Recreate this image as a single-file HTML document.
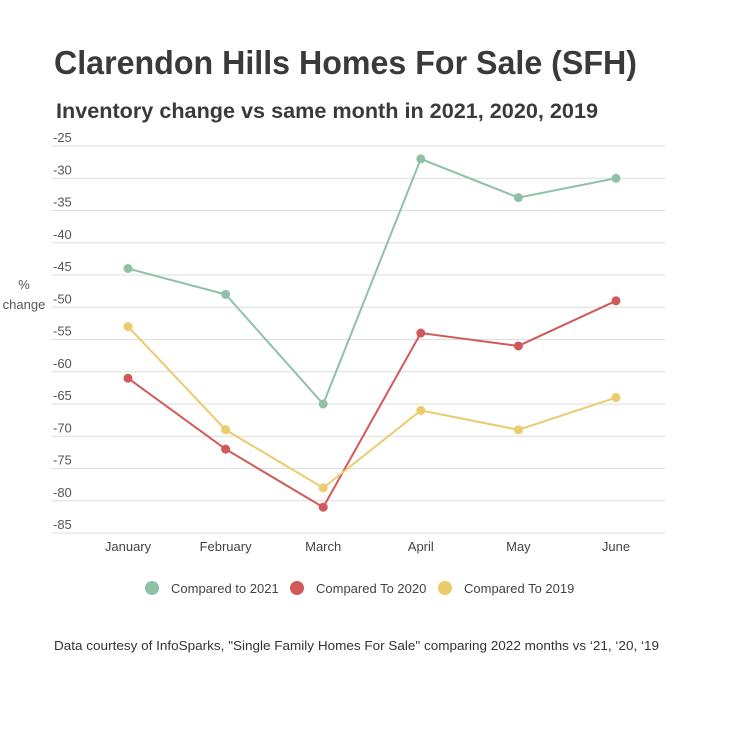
<!DOCTYPE html>
<html><head><meta charset="utf-8"><style>
body{margin:0;background:#fff;width:729px;height:729px;overflow:hidden;font-family:"Liberation Sans",sans-serif}
</style></head><body>
<svg width="729" height="729" xmlns="http://www.w3.org/2000/svg">
<text x="54" y="74" font-size="33" font-weight="bold" fill="#3a3a3a" textLength="583" lengthAdjust="spacingAndGlyphs">Clarendon Hills Homes For Sale (SFH)</text>
<text x="56" y="118" font-size="21" font-weight="bold" fill="#3a3a3a" textLength="542" lengthAdjust="spacingAndGlyphs">Inventory change vs same month in 2021, 2020, 2019</text>
<text x="24" y="289" font-size="13" fill="#555" text-anchor="middle">%</text>
<text x="24" y="309" font-size="13" fill="#555" text-anchor="middle">change</text>
<g id="grid"></g><g id="xl"></g><g id="series"></g>
<g>
<circle cx="152" cy="588" r="7" fill="#8fc1a7"/>
<text x="171" y="593" font-size="13" fill="#444">Compared to 2021</text>
<circle cx="297" cy="588" r="7" fill="#d05a5a"/>
<text x="316" y="593" font-size="13" fill="#444">Compared To 2020</text>
<circle cx="445" cy="588" r="7" fill="#ebcb6b"/>
<text x="464" y="593" font-size="13" fill="#444">Compared To 2019</text>
</g>
<text x="54" y="650" font-size="13" fill="#333" textLength="605" lengthAdjust="spacingAndGlyphs">Data courtesy of InfoSparks, "Single Family Homes For Sale" comparing 2022 months vs ‘21, ‘20, ‘19</text>
</svg>
<script>
const categories=["January","February","March","April","May","June"];
const s2021=[-44,-48,-65,-27,-33,-30];
const s2020=[-61,-72,-81,-54,-56,-49];
const s2019=[-53,-69,-78,-66,-69,-64];
const yTicks=[-25,-30,-35,-40,-45,-50,-55,-60,-65,-70,-75,-80,-85];
const NS="http://www.w3.org/2000/svg";
const y=v=>146+(-25-v)*(533-146)/60;
const x=i=>128+i*97.6;
function mk(t,a,p){const e=document.createElementNS(NS,t);for(const k in a)e.setAttribute(k,a[k]);p.appendChild(e);return e;}
const g=document.getElementById('grid');
yTicks.forEach(v=>{
 const l=mk('line',{x1:52,x2:665,y1:y(v),y2:y(v),stroke:'#ddd','stroke-width':1},g);
 
 
 const t=mk('text',{x:53,y:y(v)-4,'font-size':13,fill:'#555'},g);t.textContent=v;
 
 
});
const xl=document.getElementById('xl');
categories.forEach((c,i)=>{
 const t=mk('text',{x:x(i),y:551,'font-size':13,fill:'#444','text-anchor':'middle'},xl);t.textContent=c;
 
 
});
const sg=document.getElementById('series');
[[s2021,'#8fc1a7','2021'],[s2020,'#d05a5a','2020'],[s2019,'#ebcb6b','2019']].forEach(([d,c,n])=>{
 const p=mk('polyline',{points:d.map((v,i)=>x(i)+','+y(v)).join(' '),fill:'none',stroke:c,'stroke-width':2},sg);
 
 
 d.forEach((v,i)=>{const ci=mk('circle',{cx:x(i),cy:y(v),r:4.5,fill:c},sg);
 
 });
});
</script>
</body></html>
